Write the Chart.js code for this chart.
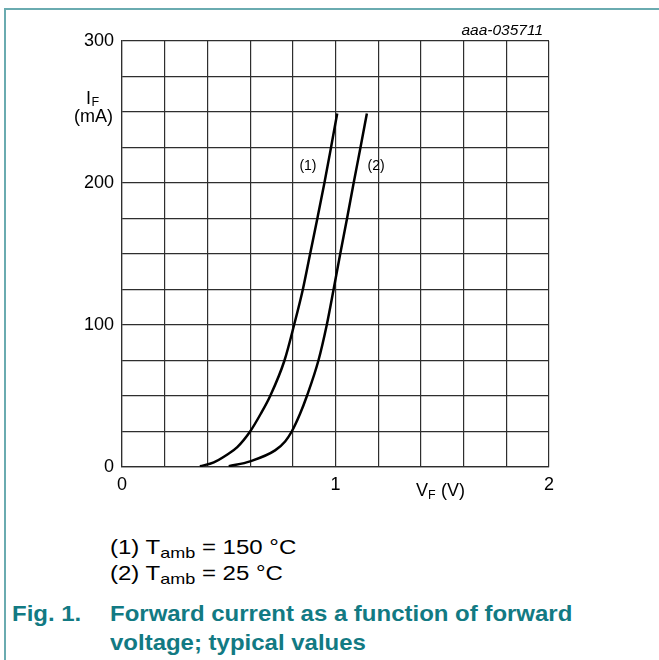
<!DOCTYPE html>
<html>
<head>
<meta charset="utf-8">
<script src="https://cdn.jsdelivr.net/npm/chart.js@4"></script>
<style>
  html, body { margin: 0; padding: 0; background: #fff; }
  body { width: 659px; height: 660px; position: relative; overflow: hidden;
         font-family: "Liberation Sans", Arial, sans-serif; }
  #frame { position: absolute; left: 4px; top: 8px; width: 700px; height: 700px;
           border-top: 2px solid #6aabb0; border-left: 2px solid #6aabb0; }
  #wrap { position: absolute; left: 0; top: 0; width: 659px; height: 520px; }
  .line { position: absolute; white-space: nowrap; transform-origin: left top; }
  .note { font-size: 20px; line-height: 20px; color: #000; transform: scaleX(1.2); }
  .cap { font-size: 22px; line-height: 22px; font-weight: bold; color: #127a83; transform: scaleX(1.09); }
  .sub { font-size: 15px; position: relative; top: 4px; }
</style>
</head>
<body>
<div id="frame"></div>
<div id="wrap"><canvas id="forwardChart"></canvas></div>

<div class="line note" style="left:110px; top:537px;">(1) T<span class="sub">amb</span> = 150 °C</div>
<div class="line note" style="left:110px; top:563px;">(2) T<span class="sub">amb</span> = 25 °C</div>
<div class="line cap" style="left:12px; top:603px;">Fig. 1.</div>
<div class="line cap" style="left:110px; top:603px;">Forward current as a function of forward</div>
<div class="line cap" style="left:110px; top:632px;">voltage; typical values</div>

<script>
// curve (1): Tamb = 150 °C
var vf150 = [0.365, 0.43, 0.49, 0.54, 0.60, 0.65, 0.694, 0.761, 0.806, 0.847, 0.881, 0.915, 0.948, 0.979, 1.008];
var if150 = [0.5, 3.3, 8.5, 14, 25, 37.5, 50, 75, 100, 125, 150, 175, 200, 225, 249];

// curve (2): Tamb = 25 °C
var vf25 = [0.50, 0.60, 0.717, 0.764, 0.795, 0.834, 0.866, 0.92, 0.959, 0.991, 1.022, 1.054, 1.085, 1.117, 1.147];
var if25 = [0.5, 4, 11.7, 18, 25, 37.5, 50, 75, 100, 125, 150, 175, 200, 225, 249];

var curveLabels = ["(1)", "(2)"];
var labelAt = [[0.871, 212], [1.19, 212]];

var xTickLabels = [0, 1, 2];
var yTickLabels = [0, 100, 200, 300];

var FONT = "'Liberation Sans', Arial, sans-serif";
var GRID = "#2e2e2e";

function toPoints(xs, ys) {
    var pts = [];
    for (var i = 0; i < xs.length; i++) pts.push({x: xs[i], y: ys[i]});
    return pts;
}

function near(list, v) {
    for (var i = 0; i < list.length; i++) {
        if (Math.abs(list[i] - v) < 1e-6) return list[i];
    }
    return "";
}

// axis titles, curve labels and the drawing number
var textPlugin = {
    id: "texts",
    afterDraw: function(chart) {
        var c = chart.ctx;
        var xs = chart.scales.x, ys = chart.scales.y;
        c.save();
        c.fillStyle = "#000";
        c.textBaseline = "middle";
        c.textAlign = "center";
        c.font = "14px " + FONT;
        for (var i = 0; i < curveLabels.length; i++) {
            c.fillText(curveLabels[i], xs.getPixelForValue(labelAt[i][0]), ys.getPixelForValue(labelAt[i][1]));
        }

        c.textBaseline = "alphabetic";
        c.textAlign = "left";
        // y title
        c.font = "18px " + FONT;
        c.fillText("I", 86, 104);
        c.font = "12.5px " + FONT;
        c.fillText("F", 91.5, 105.5);
        c.textAlign = "center";
        c.font = "18px " + FONT;
        c.fillText("(mA)", 93.5, 122);

        // x title
        c.textAlign = "left";
        c.fillText("V", 416, 496);
        c.font = "12.5px " + FONT;
        c.fillText("F", 428, 499);
        c.font = "18px " + FONT;
        c.fillText(" (V)", 436, 496);

        c.textAlign = "right";
        c.font = "italic 15.5px " + FONT;
        c.fillText("aaa-035711", 543, 35);
        c.restore();
    }
};

var ctx = document.getElementById("forwardChart");

var forwardChart = new Chart(ctx, {
    type: "line",
    data: {
        datasets: [{
            label: "Tamb = 150 °C",
            data: toPoints(vf150, if150),
            borderColor: "#000",
            borderWidth: 2.5,
            pointRadius: 0,
            cubicInterpolationMode: "monotone",
            fill: false
        }, {
            label: "Tamb = 25 °C",
            data: toPoints(vf25, if25),
            borderColor: "#000",
            borderWidth: 2.5,
            pointRadius: 0,
            cubicInterpolationMode: "monotone",
            fill: false
        }]
    },
    options: {
        responsive: true,
        maintainAspectRatio: false,
        animation: false,
        layout: { padding: { left: 0, top: 41, right: 110, bottom: 0 } },
        plugins: { legend: { display: false }, tooltip: { enabled: false } },
        scales: {
            x: {
                type: "linear",
                min: 0,
                max: 2,
                afterFit: function(s) { s.height = 53; },
                grid: { color: GRID, lineWidth: 1.2, drawTicks: false },
                border: { color: GRID, width: 1.2 },
                ticks: {
                    stepSize: 0.2,
                    autoSkip: false,
                    maxRotation: 0,
                    padding: 7,
                    color: "#000",
                    font: { family: FONT, size: 18 },
                    callback: function(v) { return near(xTickLabels, v); }
                }
            },
            y: {
                min: 0,
                max: 300,
                afterFit: function(s) { s.width = 122; },
                grid: { color: GRID, lineWidth: 1.2, drawTicks: false },
                border: { color: GRID, width: 1.2 },
                ticks: {
                    stepSize: 25,
                    autoSkip: false,
                    padding: 8,
                    color: "#000",
                    font: { family: FONT, size: 18 },
                    callback: function(v) { return near(yTickLabels, v); }
                }
            }
        }
    },
    plugins: [textPlugin]
});
</script>
</body>
</html>
